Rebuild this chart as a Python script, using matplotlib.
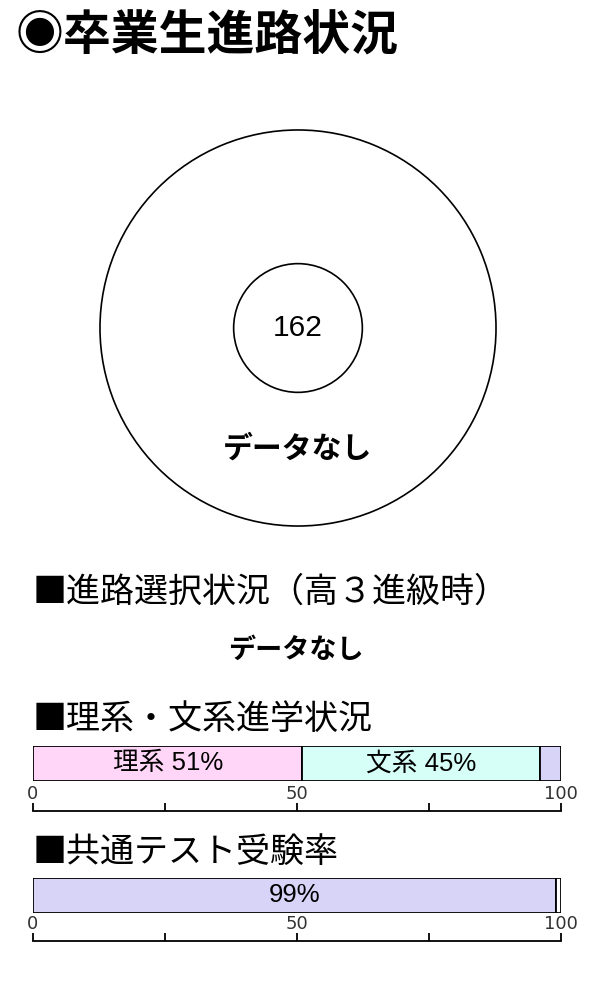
import matplotlib
matplotlib.use('Agg')
import matplotlib.pyplot as plt

plt.rcParams['font.family'] = ['Noto Sans CJK JP', 'DejaVu Sans']

# データ
total_students = 162
donut_values = [1]  # 進路データなし -> 空のリング
bunri_labels = ['理系', '文系', 'その他']
bunri_values = [51, 45, 4]
bunri_colors = ['#FFD6F7', '#D6FFF7', '#D8D4F7']
kyotsu_labels = ['受験', '未受験']
kyotsu_values = [99, 1]
kyotsu_colors = ['#D8D4F7', 'white']
scale_ticks = [0, 25, 50, 75, 100]
scale_ticklabels = ['0', '', '50', '', '100']

W, H = 600, 1000
fig = plt.figure(figsize=(6, 10), dpi=100)


def px_axes(x0, y0, x1, y1):
    # ピクセル座標(左上原点)から軸を作る
    return fig.add_axes([x0 / W, 1 - y1 / H, (x1 - x0) / W, (y1 - y0) / H])


# タイトル
fig.text(16 / W, 1 - 35 / H, '◉卒業生進路状況', fontsize=34.5, fontweight='bold',
         va='center', ha='left')

# ドーナツ
ax_d = px_axes(98, 128, 498, 528)
ax_d.pie(donut_values, colors=['white'], radius=1, startangle=90,
         wedgeprops=dict(width=0.675, edgecolor='black', linewidth=1.2))
ax_d.set_xlim(-1.01, 1.01)
ax_d.set_ylim(-1.01, 1.01)
ax_d.set_aspect('equal')
ax_d.axis('off')
ax_d.text(0, 0, str(total_students), fontsize=21.5, ha='center', va='center',
          family=['Liberation Sans'])
ax_d.text(0, -0.61, 'データなし', fontsize=21.5, fontweight='bold', ha='center', va='center')

# 見出し
fig.text(33 / W, 1 - 592 / H, '■進路選択状況（高３進級時）', fontsize=24.5, va='center', ha='left')
fig.text(296 / W, 1 - 650 / H, 'データなし', fontsize=19.5, fontweight='bold', va='center', ha='center')
fig.text(33 / W, 1 - 720 / H, '■理系・文系進学状況', fontsize=24.5, va='center', ha='left')
fig.text(33 / W, 1 - 852 / H, '■共通テスト受験率', fontsize=24.5, va='center', ha='left')


def stacked_bar(ybar0, ybar1, yscale, labels, values, colors, texts):
    ax = px_axes(33, ybar0, 561, ybar1)
    left = 0
    for lab, v, c, t in zip(labels, values, colors, texts):
        ax.barh(0.5, v, left=left, height=1, color=c, edgecolor='black', linewidth=1.3)
        if t:
            ax.text(left + v / 2, 0.5, t, ha='center', va='center', fontsize=18.5,
                    family=['Liberation Sans', 'Noto Sans CJK JP'])
        left += v
    ax.set_xlim(0, 100)
    ax.set_ylim(0, 1)
    ax.axis('off')

    # 目盛り
    sc = px_axes(33, yscale - 1, 561, yscale)
    sc.set_xlim(0, 100)
    sc.set_ylim(0, 1)
    for s in ['top', 'left', 'right']:
        sc.spines[s].set_visible(False)
    sc.spines['bottom'].set_linewidth(1.3)
    sc.set_yticks([])
    sc.set_xticks(scale_ticks)
    sc.set_xticklabels(scale_ticklabels, family=['DejaVu Sans'])
    sc.tick_params(axis='x', direction='in', length=6, width=1.3, top=False,
                   labelbottom=False, labeltop=True, pad=5, labelsize=13,
                   labelcolor='#333333')
    sc.patch.set_alpha(0)


stacked_bar(746, 781, 811, bunri_labels, bunri_values, bunri_colors,
            ['理系 51%', '文系 45%', ''])
stacked_bar(878, 913, 941, kyotsu_labels, kyotsu_values, kyotsu_colors,
            ['99%', ''])

fig.savefig('out.png', dpi=100)
